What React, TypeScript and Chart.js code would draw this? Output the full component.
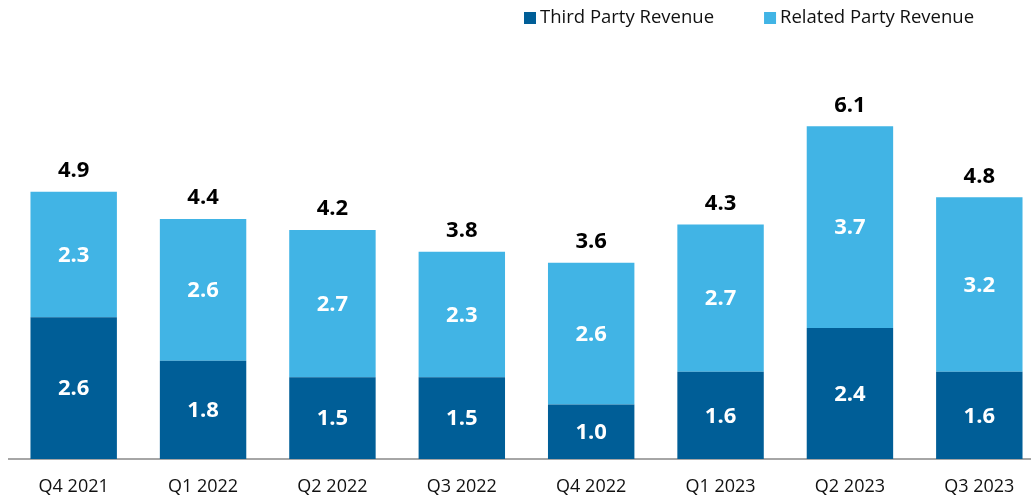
import React, { useEffect, useRef } from "react";
import { Chart, registerables } from "chart.js";

Chart.register(...registerables);

const categories = ["Q4 2021", "Q1 2022", "Q2 2022", "Q3 2022", "Q4 2022", "Q1 2023", "Q2 2023", "Q3 2023"];
const thirdPartyRevenue = [2.6, 1.8, 1.5, 1.5, 1.0, 1.6, 2.4, 1.6];
const relatedPartyRevenue = [2.3, 2.6, 2.7, 2.3, 2.6, 2.7, 3.7, 3.2];
const totalRevenue = [4.9, 4.4, 4.2, 3.8, 3.6, 4.3, 6.1, 4.8];
const seriesNames = ["Third Party Revenue", "Related Party Revenue"];
const seriesColors = ["#005E97", "#41B4E5"];
const yMin = 0;
const yMax = 7.5;

const FONT = "'Open Sans', 'Noto Sans', sans-serif";

const valueLabelsPlugin = {
  id: "valueLabels",
  afterDatasetsDraw(chart: any) {
    const ctx = chart.ctx;
    ctx.save();
    ctx.textAlign = "center";
    ctx.textBaseline = "middle";
    ctx.font = `bold 22px ${FONT}`;
    chart.data.datasets.forEach((ds: any, di: number) => {
      const meta = chart.getDatasetMeta(di);
      meta.data.forEach((el: any, i: number) => {
        const { x, y, base } = el.getProps(["x", "y", "base"], true);
        ctx.fillStyle = "#FFFFFF";
        ctx.fillText(Number(ds.data[i]).toFixed(1), x, (y + base) / 2 + 1);
      });
    });
    const topMeta = chart.getDatasetMeta(chart.data.datasets.length - 1);
    topMeta.data.forEach((el: any, i: number) => {
      const { x, y } = el.getProps(["x", "y"], true);
      ctx.fillStyle = "#000000";
      ctx.fillText(totalRevenue[i].toFixed(1), x, y - 21);
    });
    ctx.restore();
  },
};

const topLegendPlugin = {
  id: "topLegend",
  afterDraw(chart: any) {
    const ctx = chart.ctx;
    ctx.save();
    ctx.font = `18.5px ${FONT}`;
    ctx.textAlign = "left";
    ctx.textBaseline = "middle";
    let x = 524;
    chart.data.datasets.forEach((ds: any) => {
      ctx.fillStyle = ds.backgroundColor;
      ctx.fillRect(x, 12, 12, 12);
      ctx.fillStyle = "#111111";
      ctx.fillText(ds.label, x + 16, 18);
      x += 16 + ctx.measureText(ds.label).width + 50;
    });
    ctx.restore();
  },
};

export default function App() {
  const canvasRef = useRef<HTMLCanvasElement | null>(null);

  useEffect(() => {
    if (!canvasRef.current) return;
    const chart = new Chart(canvasRef.current, {
      type: "bar",
      data: {
        labels: categories,
        datasets: [
          {
            label: seriesNames[0],
            data: thirdPartyRevenue,
            backgroundColor: seriesColors[0],
            borderWidth: 0,
            barPercentage: 0.668,
            categoryPercentage: 1,
          },
          {
            label: seriesNames[1],
            data: relatedPartyRevenue,
            backgroundColor: seriesColors[1],
            borderWidth: 0,
            barPercentage: 0.668,
            categoryPercentage: 1,
          },
        ],
      },
      options: {
        animation: false,
        responsive: true,
        maintainAspectRatio: false,
        layout: { padding: { top: 50, left: 9, right: 0, bottom: 0 } },
        plugins: {
          legend: { display: false },
          tooltip: { enabled: false },
        },
        scales: {
          x: {
            stacked: true,
            grid: { display: false, drawTicks: false },
            border: { display: true, color: "#A6A6A6", width: 2 },
            ticks: {
              padding: 17,
              color: "#111111",
              font: { family: FONT, size: 18 },
              maxRotation: 0,
              autoSkip: false,
            },
            afterFit: (scale: any) => {
              scale.height = 41;
            },
          },
          y: {
            stacked: true,
            display: false,
            min: yMin,
            max: yMax,
          },
        },
      },
      plugins: [valueLabelsPlugin, topLegendPlugin],
    });
    return () => chart.destroy();
  }, []);

  return (
    <div
      style={{
        position: "fixed",
        left: 0,
        top: 0,
        width: "1031px",
        height: "500px",
        overflow: "hidden",
        background: "#FFFFFF",
      }}
    >
      <div style={{ position: "relative", width: "1044px", height: "500px" }}>
        <canvas ref={canvasRef} />
      </div>
    </div>
  );
}
